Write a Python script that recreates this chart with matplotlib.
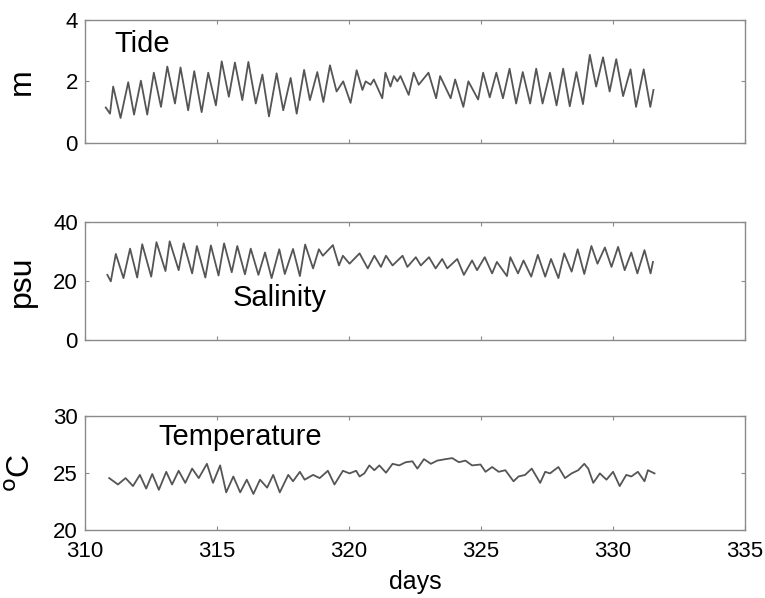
import matplotlib.pyplot as plt
import numpy as np

# tide (m): alternating troughs / peaks
tide_day = [310.79, 310.95, 311.07, 311.35, 311.64, 311.86, 312.12, 312.36, 312.61, 312.88,
            313.12, 313.41, 313.62, 313.91, 314.14, 314.42, 314.67, 314.96, 315.18, 315.45,
            315.68, 315.96, 316.19, 316.47, 316.72, 316.97, 317.26, 317.51, 317.79, 318.02,
            318.30, 318.52, 318.80, 319.03, 319.28, 319.53, 319.78, 320.06, 320.29, 320.51,
            320.63, 320.82, 320.94, 321.26, 321.38, 321.57, 321.70, 321.83, 321.95, 322.26,
            322.45, 322.64, 323.01, 323.30, 323.45, 323.85, 324.02, 324.33, 324.52, 324.89,
            325.08, 325.33, 325.58, 325.83, 326.08, 326.33, 326.58, 326.86, 327.09, 327.33,
            327.61, 327.86, 328.11, 328.36, 328.61, 328.86, 329.12, 329.36, 329.62, 329.87,
            330.12, 330.38, 330.66, 330.87, 331.16, 331.41, 331.53]
tide_m = [1.15, 0.95, 1.83, 0.81, 1.97, 0.92, 2.02, 0.92, 2.28, 1.17,
          2.48, 1.28, 2.45, 1.06, 2.33, 1.00, 2.28, 1.22, 2.65, 1.50,
          2.61, 1.39, 2.63, 1.28, 2.22, 0.86, 2.26, 1.06, 2.11, 0.95,
          2.37, 1.39, 2.30, 1.33, 2.52, 1.67, 2.00, 1.30, 2.36, 1.72,
          2.00, 1.89, 2.06, 1.45, 2.28, 1.83, 2.17, 2.00, 2.17, 1.56,
          2.28, 1.89, 2.28, 1.45, 2.17, 1.45, 2.06, 1.17, 2.00, 1.41,
          2.28, 1.48, 2.28, 1.45, 2.41, 1.28, 2.30, 1.28, 2.41, 1.28,
          2.28, 1.22, 2.41, 1.19, 2.30, 1.26, 2.86, 1.83, 2.78, 1.67,
          2.72, 1.52, 2.39, 1.17, 2.39, 1.17, 1.72]

# salinity (psu)
sal_day = [310.85, 310.98, 311.17, 311.46, 311.71, 311.98, 312.17, 312.51, 312.71, 313.05,
           313.21, 313.55, 313.74, 314.06, 314.24, 314.56, 314.77, 315.06, 315.27, 315.56,
           315.77, 316.06, 316.28, 316.57, 316.82, 317.07, 317.36, 317.57, 317.88, 318.14,
           318.34, 318.64, 318.86, 319.01, 319.39, 319.62, 319.77, 320.02, 320.40, 320.71,
           320.96, 321.21, 321.40, 321.65, 322.03, 322.21, 322.53, 322.72, 323.03, 323.28,
           323.53, 323.72, 324.10, 324.35, 324.66, 324.85, 325.14, 325.42, 325.60, 325.98,
           326.11, 326.40, 326.61, 326.90, 327.15, 327.43, 327.65, 327.93, 328.15, 328.43,
           328.66, 328.91, 329.18, 329.41, 329.69, 329.94, 330.19, 330.44, 330.69, 330.92,
           331.19, 331.42, 331.51]
sal_psu = [22.2, 20.0, 29.3, 21.1, 31.1, 21.3, 32.6, 21.6, 33.3, 23.5,
           33.6, 23.8, 32.9, 22.7, 32.0, 21.3, 32.2, 22.0, 32.9, 23.1,
           32.0, 22.4, 31.1, 22.2, 29.8, 21.1, 30.9, 22.5, 31.0, 21.8,
           32.5, 24.4, 30.9, 28.7, 32.3, 25.4, 28.7, 26.0, 29.5, 24.4,
           28.7, 24.9, 28.7, 25.4, 28.7, 24.9, 28.2, 25.4, 28.2, 24.4,
           27.6, 24.4, 27.6, 22.2, 27.1, 23.8, 28.2, 22.7, 26.6, 21.8,
           28.2, 22.7, 27.1, 21.6, 29.0, 21.6, 27.6, 21.1, 29.5, 23.3,
           30.9, 22.5, 32.0, 26.0, 31.5, 24.9, 31.7, 23.8, 29.8, 22.7,
           30.6, 22.7, 26.6]

# temperature (deg C)
temp_day = [310.92, 311.25, 311.54, 311.82, 312.08, 312.32, 312.55, 312.80, 313.08, 313.30,
            313.55, 313.80, 314.06, 314.31, 314.62, 314.85, 315.12, 315.35, 315.62, 315.88,
            316.13, 316.38, 316.63, 316.90, 317.13, 317.38, 317.70, 317.88, 318.14, 318.32,
            318.64, 318.89, 319.20, 319.45, 319.77, 320.02, 320.27, 320.40, 320.58, 320.77,
            320.96, 321.15, 321.40, 321.65, 321.90, 322.15, 322.40, 322.59, 322.84, 323.10,
            323.34, 323.66, 323.91, 324.16, 324.41, 324.66, 324.98, 325.17, 325.42, 325.67,
            325.92, 326.23, 326.42, 326.67, 326.92, 327.24, 327.43, 327.61, 327.93, 328.18,
            328.43, 328.68, 328.91, 329.06, 329.25, 329.50, 329.75, 330.00, 330.25, 330.50,
            330.69, 330.94, 331.19, 331.32, 331.57]
temp_c = [24.53, 23.97, 24.53, 23.83, 24.81, 23.61, 24.89, 23.50, 25.08, 23.97,
          25.17, 24.11, 25.36, 24.53, 25.78, 24.11, 25.64, 23.28, 24.67, 23.28,
          24.39, 23.14, 24.39, 23.69, 24.81, 23.28, 24.81, 24.25, 25.08, 24.39,
          24.81, 24.53, 25.17, 23.97, 25.17, 24.94, 25.17, 24.67, 24.94, 25.64,
          25.22, 25.64, 25.00, 25.78, 25.64, 25.92, 26.00, 25.36, 26.19, 25.78,
          26.06, 26.19, 26.28, 25.92, 26.06, 25.64, 25.72, 25.08, 25.50, 25.08,
          25.22, 24.25, 24.67, 24.81, 25.36, 24.11, 25.08, 24.94, 25.50, 24.53,
          24.94, 25.22, 25.78, 25.36, 24.11, 24.94, 24.39, 25.08, 23.83, 24.81,
          24.67, 25.08, 24.25, 25.22, 24.94]

panels = [
    (tide_day, tide_m, 'm', [0, 2, 4], (0, 4), 'Tide'),
    (sal_day, sal_psu, 'psu', [0, 20, 40], (0, 40), 'Salinity'),
    (temp_day, temp_c, '$^{\\rm o}$C', [20, 25, 30], (20, 30), 'Temperature'),
]
label_pos = [(311.1, 3.2), (315.6, 14.5), (312.8, 28.1)]
rects = [[0.111, 0.761, 0.863, 0.206],
         [0.111, 0.431, 0.863, 0.197],
         [0.111, 0.114, 0.863, 0.191]]

plt.rcParams['font.family'] = ['Liberation Sans Narrow', 'Liberation Sans', 'DejaVu Sans']

fig = plt.figure(figsize=(7.65, 5.98), dpi=100)
line_col = '#555555'
frame_col = '#8a8a8a'

for i, (x, y, unit, yt, ylim, name) in enumerate(panels):
    ax = fig.add_axes(rects[i])
    ax.plot(x, y, color=line_col, linewidth=1.3, solid_joinstyle='round')
    ax.set_xlim(310, 335)
    ax.set_ylim(*ylim)
    ax.set_yticks(yt)
    ax.set_xticks(np.arange(310, 336, 5))
    ax.tick_params(direction='in', length=3, color=frame_col, top=True, right=True,
                   labelsize=16)
    ax.tick_params(axis='y', pad=5)
    ax.tick_params(axis='x', pad=8)
    for s in ax.spines.values():
        s.set_color(frame_col)
        s.set_linewidth(1.0)
    if i < 2:
        ax.set_xticklabels([])
    ax.set_ylabel(unit, fontsize=23, family=['Liberation Sans', 'DejaVu Sans'], va='center')
    ax.yaxis.set_label_coords(-0.095, 0.5)
    ax.text(label_pos[i][0], label_pos[i][1], name, fontsize=21,
            family=['Liberation Sans', 'DejaVu Sans'], va='center', ha='left')
    if i == 2:
        ax.set_xlabel('days', fontsize=18, labelpad=6)

fig.savefig('out.png', dpi=100)
